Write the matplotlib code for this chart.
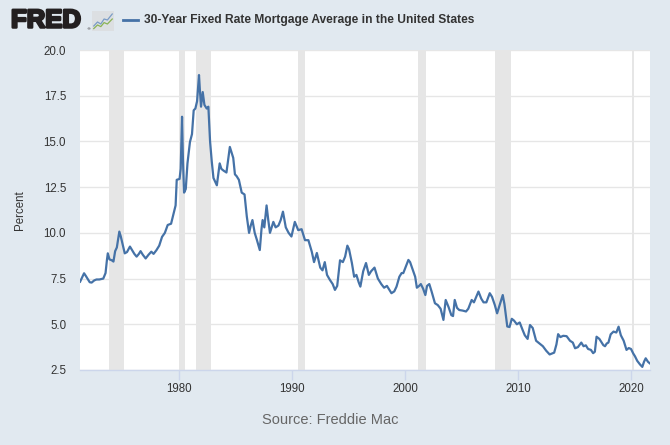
import matplotlib
matplotlib.use("Agg")
import matplotlib.pyplot as plt
import matplotlib.patheffects as pe
from matplotlib.lines import Line2D

title = "30-Year Fixed Rate Mortgage Average in the United States"
source = "Source: Freddie Mac"
ylabel = "Percent"

dates = [
    1971.25, 1971.45, 1971.6, 1971.75, 1971.95, 1972.1, 1972.27, 1972.5, 1972.7, 1972.95,
    1973.3, 1973.5, 1973.62, 1973.7, 1973.85, 1974.05, 1974.2, 1974.35, 1974.5, 1974.6,
    1974.72, 1974.85, 1975.0, 1975.2, 1975.4, 1975.66, 1975.85, 1976.05, 1976.25, 1976.45,
    1976.6, 1976.8, 1977.05, 1977.3, 1977.55, 1977.75, 1978.0, 1978.25, 1978.5, 1978.75,
    1979.0, 1979.3, 1979.55, 1979.7, 1979.8, 1980.05, 1980.15, 1980.27, 1980.35, 1980.45,
    1980.6, 1980.75, 1980.97, 1981.15, 1981.3, 1981.45, 1981.6, 1981.77, 1981.85, 1981.95,
    1982.1, 1982.25, 1982.45, 1982.6, 1982.75, 1982.9, 1983.05, 1983.2, 1983.35, 1983.6,
    1983.75, 1983.95, 1984.2, 1984.5, 1984.65, 1984.8, 1984.95, 1985.1, 1985.3, 1985.55,
    1985.8, 1986.0, 1986.2, 1986.35, 1986.5, 1986.7, 1986.9, 1987.15, 1987.3, 1987.4,
    1987.55, 1987.75, 1987.9, 1988.05, 1988.35, 1988.55, 1988.8, 1989.0, 1989.2, 1989.45,
    1989.7, 1989.95, 1990.25, 1990.55, 1990.85, 1991.15, 1991.45, 1991.75, 1991.95, 1992.2,
    1992.5, 1992.7, 1992.9, 1993.1, 1993.35, 1993.6, 1993.8, 1994.0, 1994.25, 1994.5,
    1994.7, 1994.9, 1995.05, 1995.3, 1995.5, 1995.7, 1995.9, 1996.05, 1996.3, 1996.55,
    1996.8, 1997.0, 1997.3, 1997.6, 1997.9, 1998.15, 1998.4, 1998.6, 1998.8, 1999.05,
    1999.25, 1999.5, 1999.7, 1999.85, 2000.1, 2000.3, 2000.45, 2000.7, 2000.9, 2001.05,
    2001.25, 2001.4, 2001.6, 2001.8, 2001.95, 2002.15, 2002.35, 2002.65, 2002.9, 2003.15,
    2003.4, 2003.6, 2003.85, 2004.1, 2004.25, 2004.4, 2004.6, 2004.8, 2005.1, 2005.4,
    2005.6, 2005.9, 2006.1, 2006.3, 2006.5, 2006.75, 2006.95, 2007.2, 2007.5, 2007.7,
    2007.95, 2008.15, 2008.35, 2008.55, 2008.65, 2008.8, 2009.05, 2009.25, 2009.45, 2009.65,
    2009.9, 2010.15, 2010.4, 2010.6, 2010.85, 2011.06, 2011.3, 2011.6, 2011.8, 2012.0,
    2012.2, 2012.5, 2012.8, 2013.0, 2013.2, 2013.4, 2013.55, 2013.75, 2014.0, 2014.3,
    2014.6, 2014.85, 2015.05, 2015.3, 2015.6, 2015.8, 2016.0, 2016.2, 2016.45, 2016.65,
    2016.8, 2016.95, 2017.2, 2017.55, 2017.7, 2017.85, 2018.0, 2018.2, 2018.45, 2018.7,
    2018.9, 2019.1, 2019.35, 2019.6, 2019.8, 2020.0, 2020.2, 2020.35, 2020.55, 2020.8,
    2021.0, 2021.15, 2021.3, 2021.5, 2021.65,
]

rates = [
    7.33, 7.60, 7.79, 7.65, 7.45, 7.30, 7.28, 7.40, 7.45, 7.45,
    7.50, 7.80, 8.50, 8.88, 8.55, 8.50, 8.43, 9.00, 9.20, 9.60,
    10.07, 9.80, 9.40, 8.88, 8.95, 9.25, 9.05, 8.85, 8.70, 8.85,
    9.00, 8.80, 8.60, 8.80, 8.97, 8.85, 9.05, 9.30, 9.78, 10.00,
    10.43, 10.50, 11.14, 11.50, 12.90, 12.95, 13.50, 16.35, 14.00, 12.20,
    12.40, 13.80, 14.97, 15.40, 16.70, 16.80, 17.20, 18.63, 17.80, 16.90,
    17.70, 17.00, 16.80, 16.90, 15.00, 13.90, 13.00, 12.80, 12.60, 13.80,
    13.50, 13.40, 13.30, 14.70, 14.40, 14.10, 13.20, 13.10, 12.90, 12.20,
    12.10, 10.90, 10.00, 10.40, 10.70, 10.00, 9.60, 9.06, 10.20, 10.70,
    10.30, 11.50, 10.70, 10.00, 10.60, 10.30, 10.40, 10.70, 11.16, 10.30,
    10.00, 9.80, 10.60, 10.15, 10.20, 9.60, 9.60, 8.97, 8.40, 8.90,
    8.10, 7.95, 8.40, 7.70, 7.43, 7.20, 6.88, 7.10, 8.50, 8.40,
    8.70, 9.30, 9.10, 8.35, 7.60, 7.70, 7.30, 7.06, 7.90, 8.35,
    7.70, 7.90, 8.10, 7.50, 7.20, 7.00, 7.10, 6.90, 6.70, 6.80,
    7.06, 7.60, 7.80, 7.80, 8.20, 8.52, 8.40, 7.95, 7.60, 7.00,
    7.10, 7.20, 6.95, 6.60, 7.10, 7.20, 6.80, 6.15, 6.05, 5.85,
    5.24, 6.33, 5.95, 5.50, 5.45, 6.33, 5.90, 5.78, 5.75, 5.70,
    5.85, 6.33, 6.20, 6.50, 6.79, 6.40, 6.20, 6.20, 6.70, 6.50,
    6.05, 5.60, 6.00, 6.40, 6.60, 6.10, 4.88, 4.85, 5.30, 5.20,
    5.00, 5.10, 4.70, 4.40, 4.20, 4.96, 4.80, 4.10, 4.00, 3.90,
    3.80, 3.55, 3.35, 3.40, 3.45, 3.90, 4.46, 4.30, 4.37, 4.35,
    4.10, 4.00, 3.69, 3.75, 4.00, 3.80, 3.85, 3.65, 3.60, 3.42,
    3.50, 4.32, 4.20, 3.86, 3.80, 3.95, 4.00, 4.45, 4.60, 4.55,
    4.87, 4.40, 4.10, 3.60, 3.70, 3.65, 3.40, 3.25, 3.00, 2.80,
    2.67, 2.95, 3.14, 2.95, 2.87,
]

recession_start = [1973.83, 1980.0, 1981.5, 1990.5, 2001.17, 2007.92, 2020.08]
recession_end = [1975.17, 1980.5, 1982.83, 1991.17, 2001.83, 2009.42, 2020.25]

x_ticks = [1980, 1990, 2000, 2010, 2020]
y_ticks = [2.5, 5.0, 7.5, 10.0, 12.5, 15.0, 17.5, 20.0]

BG = "#e1e9f0"
LINE = "#4572a7"
W, H = 670, 445

fig = plt.figure(figsize=(6.7, 4.45), dpi=100, facecolor=BG)
ax = fig.add_axes([80/W, 1 - 370/H, 570/W, 320/H])
ax.set_facecolor("white")

for s, e in zip(recession_start, recession_end):
    ax.axvspan(s, e, color="#e6e6e6", lw=0, zorder=1)

ax.plot(dates, rates, color=LINE, lw=1.6, zorder=3, solid_joinstyle="round")

ax.set_xlim(1971.24, 2021.68)
ax.set_ylim(2.5, 20.0)
ax.set_yticks(y_ticks)
ax.set_yticklabels([f"{v:.1f}" for v in y_ticks])
ax.set_xticks(x_ticks)
ax.set_xticklabels([str(v) for v in x_ticks])
ax.grid(axis="y", color="#e6e6e6", lw=1, zorder=0)
ax.set_axisbelow(True)
for side in ["top", "right", "left"]:
    ax.spines[side].set_visible(False)
ax.spines["bottom"].set_color("#ccd6eb")
ax.spines["bottom"].set_linewidth(1)
ax.tick_params(axis="y", length=0, pad=10, labelsize=8.3, labelcolor="#333333")
ax.tick_params(axis="x", length=7, width=1, color="#ccd6eb", pad=2, labelsize=8.3, labelcolor="#333333")
for lab in ax.get_xticklabels() + ax.get_yticklabels():
    lab.set_family("Liberation Sans")

fig.text(20/W, 1 - 210/H, ylabel, rotation=90, ha="center", va="center",
         fontsize=8.3, color="#333333", family="Liberation Sans")
fig.text(330/W, 1 - 420/H, source, ha="center", va="center",
         fontsize=10.5, color="#666666", family="Liberation Sans")

# FRED logo
fig.text(11/W, 1 - 20.5/H, "FRED", ha="left", va="center", fontsize=18.5,
         fontweight="bold", color="#231f20", family="Liberation Sans",
         path_effects=[pe.withStroke(linewidth=1.8, foreground="#231f20")])
fig.text(86/W, 1 - 29/H, "\u00ae", ha="left", va="center", fontsize=3,
         color="#231f20", family="DejaVu Sans")
icon = fig.add_axes([92/W, 1 - 31/H, 22/W, 20/H])
icon.set_facecolor("#dcdfe2")
icon.set_xlim(0, 1); icon.set_ylim(0, 1)
icon.plot([0.08, 0.25, 0.4, 0.55, 0.7, 0.92], [0.25, 0.45, 0.35, 0.6, 0.55, 0.85], color="#7a9cc6", lw=0.9)
icon.plot([0.08, 0.25, 0.4, 0.55, 0.7, 0.92], [0.12, 0.3, 0.22, 0.42, 0.35, 0.6], color="#8ab356", lw=0.9)
icon.set_xticks([]); icon.set_yticks([])
for sp in icon.spines.values():
    sp.set_visible(False)

fig.add_artist(Line2D([123/W, 138/W], [1 - 20/H, 1 - 20/H], color=LINE, lw=2))
fig.text(144/W, 1 - 20/H, title, ha="left", va="center", fontsize=8.65,
         fontweight="bold", color="#333333", family="Liberation Sans")

fig.savefig("out.png", dpi=100, facecolor=BG)
